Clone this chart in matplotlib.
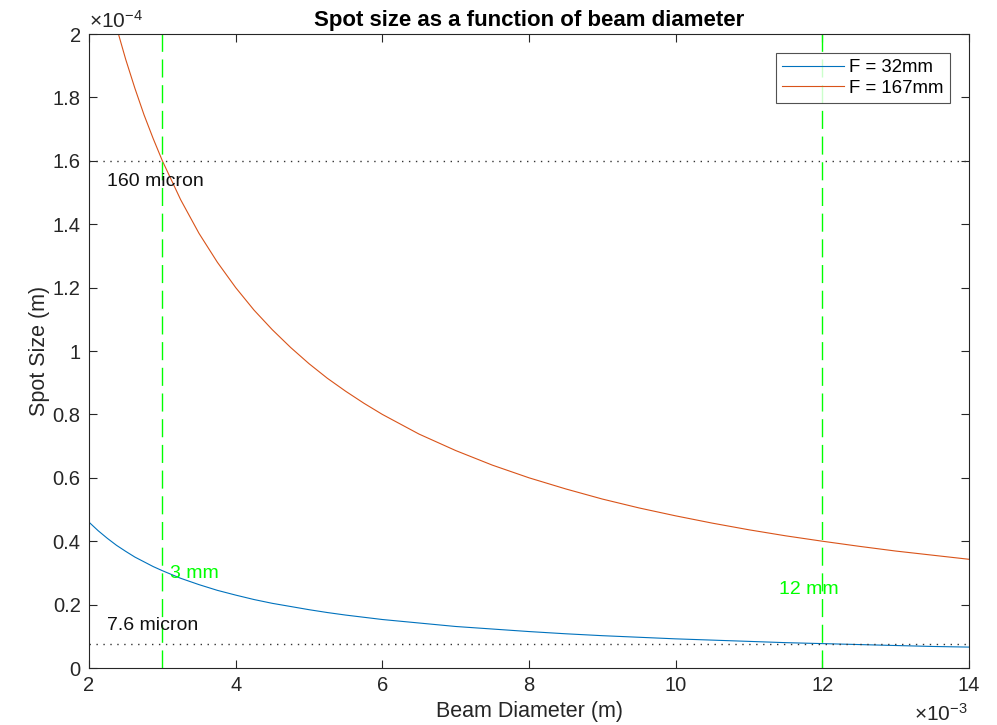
import numpy as np
import matplotlib
matplotlib.use("Agg")
import matplotlib.pyplot as plt
from matplotlib.ticker import FuncFormatter

plt.rcParams['font.family'] = ['Liberation Sans', 'DejaVu Sans']
plt.rcParams['mathtext.fontset'] = 'custom'
plt.rcParams['mathtext.rm'] = 'Liberation Sans'
plt.rcParams['mathtext.it'] = 'Liberation Sans'

# beam diameter (mm) and spot size (micron)
diam = [2.0, 2.125, 2.25, 2.375, 2.5, 2.625, 2.75, 2.875, 3.0, 3.25, 3.5, 3.75, 4.0,
        4.25, 4.5, 4.75, 5.0, 5.25, 5.5, 5.75, 6.0, 6.5, 7.0, 7.5, 8.0, 8.5, 9.0,
        9.5, 10.0, 10.5, 11.0, 11.5, 12.0, 12.5, 13.0, 13.5, 14.0]
spot_32 = [46.0, 43.3, 40.9, 38.7, 36.8, 35.0, 33.5, 32.0, 30.7, 28.3, 26.3, 24.5,
           23.0, 21.6, 20.4, 19.4, 18.4, 17.5, 16.7, 16.0, 15.3, 14.2, 13.1, 12.3,
           11.5, 10.8, 10.2, 9.7, 9.2, 8.8, 8.4, 8.0, 7.7, 7.4, 7.1, 6.8, 6.6]
spot_167 = [240.0, 225.9, 213.3, 202.1, 192.0, 182.9, 174.5, 167.0, 160.0, 147.7,
            137.1, 128.0, 120.0, 112.9, 106.7, 101.1, 96.0, 91.4, 87.3, 83.5, 80.0,
            73.8, 68.6, 64.0, 60.0, 56.5, 53.3, 50.5, 48.0, 45.7, 43.6, 41.7, 40.0,
            38.4, 36.9, 35.6, 34.3]

marker_d = [3, 12]          # mm
marker_s = [160, 7.6]       # micron

fig = plt.figure(figsize=(9.97, 7.25), dpi=100)
ax = fig.add_axes([0.0893, 0.0786, 0.8826, 0.8745])

d = np.array(diam) * 1e-3
ax.plot(d, np.array(spot_32) * 1e-6, color='#0072BD', lw=0.8, label='F = 32mm')
ax.plot(d, np.array(spot_167) * 1e-6, color='#D95319', lw=0.8, label='F = 167mm')

for x in marker_d:
    ax.axvline(x * 1e-3, color='#00FF00', ls=(0, (13, 5.5)), lw=1.0)
for s in marker_s:
    ax.axhline(s * 1e-6, color='#333333', ls=(0, (1, 4)), lw=1.0)

ax.text(2.24e-3, 1.535e-4, '160 micron', fontsize=14, va='center', color='#111111')
ax.text(2.24e-3, 0.133e-4, '7.6 micron', fontsize=14, va='center', color='#111111')
ax.text(3.1e-3, 0.297e-4, '3 mm', fontsize=14, va='center', color='#00FF00')
ax.text(11.41e-3, 0.249e-4, '12 mm', fontsize=14, va='center', color='#00FF00')

ax.set_xlim(2e-3, 14e-3)
ax.set_ylim(0, 2e-4)
ax.set_xticks(np.arange(2, 15, 2) * 1e-3)
ax.set_yticks(np.arange(0, 2.01, 0.2) * 1e-4)
ax.xaxis.set_major_formatter(FuncFormatter(lambda v, p: f"{v * 1e3:g}"))
ax.yaxis.set_major_formatter(FuncFormatter(lambda v, p: f"{round(v * 1e4, 1):g}"))
ax.tick_params(direction='in', top=True, right=True, length=6, width=0.8,
               labelsize=14.5, colors='#262626', pad=6)
for sp in ax.spines.values():
    sp.set_color('#262626')
    sp.set_linewidth(0.8)

ax.text(0.0, 1.003, r'$\times10^{-4}$', transform=ax.transAxes, fontsize=15,
        color='#262626', ha='left', va='bottom')
fig.text(0.971, 0.0, r'$\times10^{-3}$', fontsize=15,
         color='#262626', ha='right', va='bottom')

ax.set_xlabel('Beam Diameter (m)', fontsize=15.5, color='#262626', labelpad=4)
ax.set_ylabel('Spot Size (m)', fontsize=15.5, color='#262626', labelpad=2)
ax.set_title('Spot size as a function of beam diameter', fontsize=16,
             fontweight='bold', pad=6)

leg = ax.legend(loc='upper right', fontsize=13.4, frameon=True, fancybox=False,
                handlelength=3.3, borderaxespad=1.0, borderpad=0.35, labelspacing=0.2,
                handletextpad=0.3)
leg.get_frame().set_edgecolor('#262626')
leg.get_frame().set_linewidth(0.8)

fig.savefig('out.png', dpi=100)
